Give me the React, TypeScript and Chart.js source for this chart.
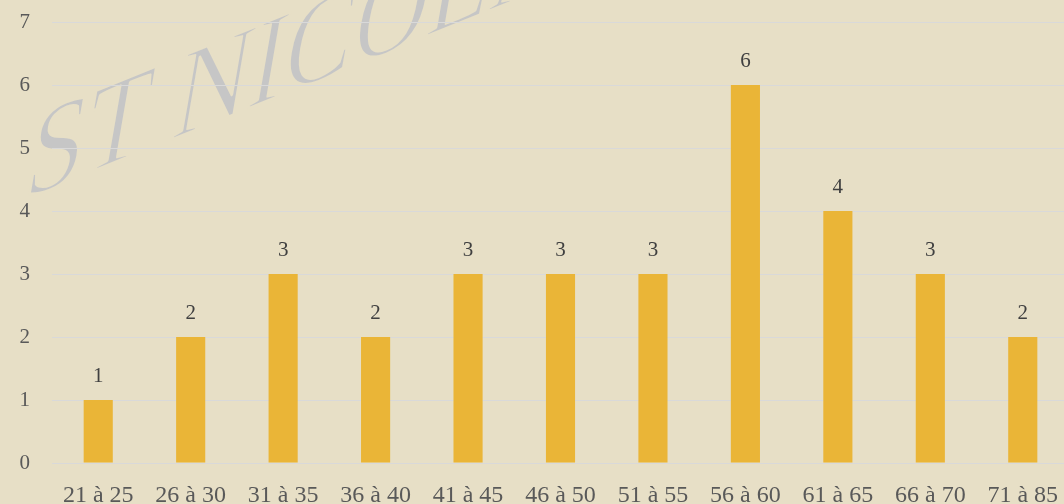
import { useEffect, useRef } from 'react';
import { Chart, registerables } from 'chart.js';

Chart.register(...registerables);

const categories = ['21 à 25', '26 à 30', '31 à 35', '36 à 40', '41 à 45', '46 à 50', '51 à 55', '56 à 60', '61 à 65', '66 à 70', '71 à 85'];
const counts = [1, 2, 3, 2, 3, 3, 3, 6, 4, 3, 2];
const yMin = 0;
const yMax = 7;
const yStep = 1;
const watermarkText = 'ST NICOLAS';

const FONT = "'Liberation Serif', 'DejaVu Serif', serif";
const BG = '#E7DFC6';

const backgroundAndWatermark = {
  id: 'bgWatermark',
  beforeDraw(chart: any) {
    const ctx = chart.ctx;
    ctx.save();
    ctx.fillStyle = BG;
    ctx.fillRect(0, 0, chart.width, chart.height);
    ctx.setTransform(0.927 * 0.85, -0.375 * 0.85, -0.17, 0.985, 22, 200);
    ctx.font = `132px ${FONT}`;
    ctx.textBaseline = 'alphabetic';
    ctx.textAlign = 'left';
    ctx.fillStyle = 'rgb(198,198,198)';
    ctx.fillText(watermarkText, 0, 0);
    ctx.strokeStyle = BG;
    ctx.lineWidth = 3;
    ctx.lineJoin = 'round';
    ctx.strokeText(watermarkText, 0, 0);
    ctx.restore();
  },
};

const valueLabels = {
  id: 'valueLabels',
  afterDatasetsDraw(chart: any) {
    const ctx = chart.ctx;
    const meta = chart.getDatasetMeta(0);
    ctx.save();
    ctx.font = `21px ${FONT}`;
    ctx.fillStyle = '#404040';
    ctx.textAlign = 'center';
    ctx.textBaseline = 'middle';
    meta.data.forEach((bar: any, i: number) => {
      ctx.fillText(String(counts[i]), bar.x, bar.y - 24);
    });
    ctx.restore();
  },
};

export default function App() {
  const ref = useRef<HTMLCanvasElement | null>(null);

  useEffect(() => {
    document.body.style.margin = '0';
    document.body.style.overflow = 'hidden';
    const canvas = ref.current;
    if (!canvas) return;
    const chart = new Chart(canvas, {
      type: 'bar',
      data: {
        labels: categories,
        datasets: [
          {
            data: counts,
            backgroundColor: '#EAB537',
            borderWidth: 0,
            categoryPercentage: 1,
            barPercentage: 0.315,
          },
        ],
      },
      options: {
        animation: false,
        responsive: false,
        maintainAspectRatio: false,
        layout: { padding: { top: 22, right: 3, left: 0, bottom: 0 } },
        plugins: {
          legend: { display: false },
          tooltip: { enabled: false },
        },
        scales: {
          x: {
            grid: { display: false, drawTicks: false },
            border: { display: false },
            ticks: {
              color: '#595959',
              font: { family: FONT, size: 24 },
              padding: 18,
              maxRotation: 0,
              autoSkip: false,
            },
            afterFit(scale: any) {
              scale.height = 41;
              scale.paddingLeft = 0;
              scale.paddingRight = 0;
            },
          },
          y: {
            min: yMin,
            max: yMax,
            grid: { color: '#D9D9D9', lineWidth: 1, drawTicks: false },
            border: { display: false },
            ticks: {
              stepSize: yStep,
              color: '#595959',
              font: { family: FONT, size: 21 },
              padding: 22,
            },
            afterFit(scale: any) {
              scale.width = 52;
              scale.paddingTop = 0;
              scale.paddingBottom = 0;
            },
          },
        },
      },
      plugins: [backgroundAndWatermark, valueLabels],
    });
    return () => chart.destroy();
  }, []);

  return (
    <div style={{ position: 'fixed', left: 0, top: 0, width: 1064, height: 504, overflow: 'hidden', background: BG }}>
      <canvas ref={ref} width={1072} height={504} style={{ display: 'block', width: 1072, height: 504 }} />
    </div>
  );
}
